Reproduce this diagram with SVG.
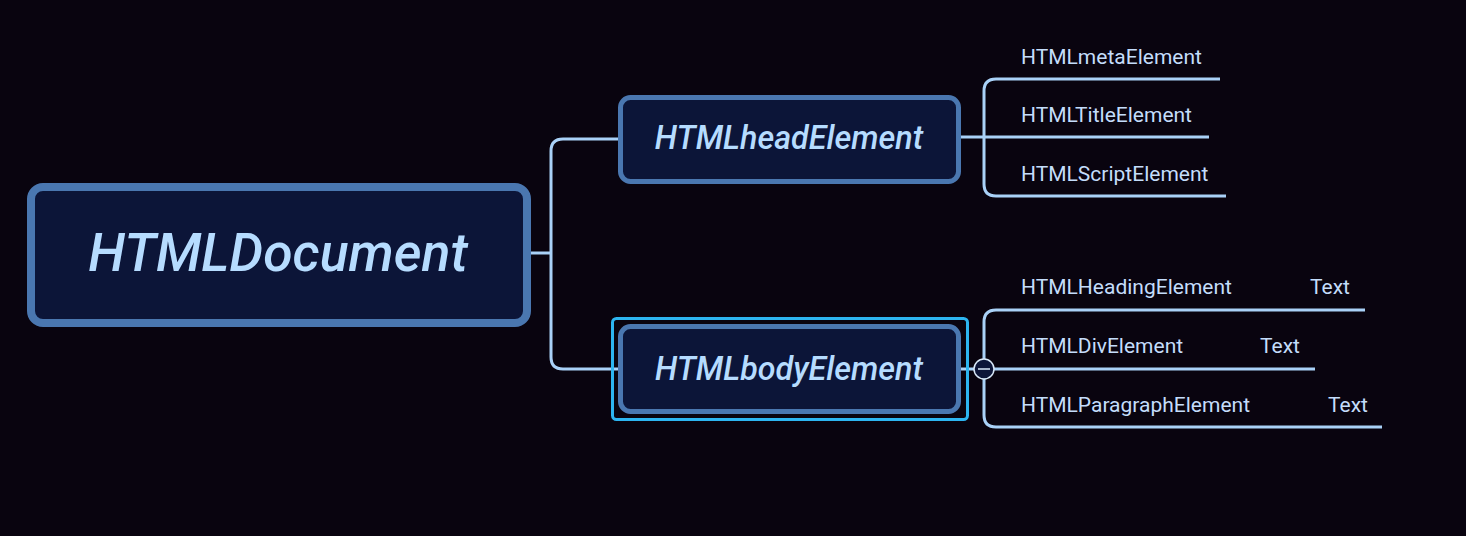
<svg xmlns="http://www.w3.org/2000/svg" width="1466" height="536" viewBox="0 0 1466 536">
<style>
.bg{fill:#09040f}
.node{fill:#0c1538;stroke:#4a77b0}
.ntxt{font-family:Roboto,"Liberation Sans",sans-serif;font-style:italic;font-weight:500;fill:#b6dcff;text-anchor:middle}
.ctxt{font-family:Roboto,"Liberation Sans",sans-serif;font-size:21px;fill:#c4ddfb}
.conn{fill:none;stroke:#a9d1f7;stroke-width:3;stroke-linecap:butt}
</style>
<rect class="bg" x="0" y="0" width="1466" height="536"/>
<g id="connectors">
<path class="conn" d="M531 253 H551"/>
<path class="conn" d="M618 139 H563 Q551 139 551 151 V357 Q551 369 563 369 H618"/>
<path class="conn" d="M961 137 H984"/>
<path class="conn" d="M1220 79 H996 Q984 79 984 91 V184 Q984 196 996 196 H1226"/>
<path class="conn" d="M984 137 H1209"/>
<path class="conn" d="M961 369 H974"/>
<path class="conn" d="M1365 310 H996 Q984 310 984 322 V415 Q984 427 996 427 H1382"/>
<path class="conn" d="M994 369 H1315"/>
</g>
<g id="root">
<rect class="node" x="31" y="187" width="496" height="136" rx="12" stroke-width="8"/>
<text class="ntxt" x="278" y="271" font-size="53.5">HTMLDocument</text>
</g>
<g id="head">
<rect class="node" x="620.5" y="97.5" width="338" height="84" rx="10" stroke-width="5"/>
<text class="ntxt" x="789" y="149" font-size="32.3">HTMLheadElement</text>
</g>
<g id="body">
<rect x="612.5" y="318.5" width="355" height="101" rx="4" fill="none" stroke="#2db5f0" stroke-width="3"/>
<rect class="node" x="620.5" y="326.5" width="338" height="85" rx="10" stroke-width="5"/>
<text class="ntxt" x="789" y="380" font-size="32.3">HTMLbodyElement</text>
</g>
<g id="meta"><text class="ctxt" x="1021" y="64">HTMLmetaElement</text></g>
<g id="title"><text class="ctxt" x="1021" y="122">HTMLTitleElement</text></g>
<g id="script"><text class="ctxt" x="1021" y="181">HTMLScriptElement</text></g>
<g id="heading"><text class="ctxt" x="1021" y="294">HTMLHeadingElement</text><text class="ctxt" x="1310" y="294">Text</text></g>
<g id="div"><text class="ctxt" x="1021" y="353">HTMLDivElement</text><text class="ctxt" x="1260" y="353">Text</text></g>
<g id="paragraph"><text class="ctxt" x="1021" y="412">HTMLParagraphElement</text><text class="ctxt" x="1328" y="412">Text</text></g>
<g id="collapse">
<circle cx="984" cy="369" r="10" fill="#0c1538" stroke="#d8e8f8" stroke-width="1.5"/>
<path d="M978 369 H990" stroke="#d8e8f8" stroke-width="1.5"/>
</g>
</svg>
